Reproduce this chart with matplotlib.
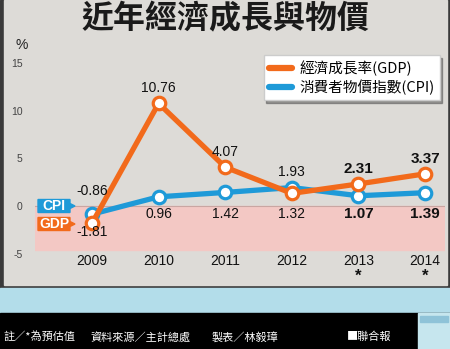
import matplotlib
matplotlib.use("Agg")
import matplotlib.pyplot as plt
from matplotlib.patches import Rectangle, Polygon
from matplotlib.lines import Line2D

plt.rcParams['font.family'] = ['Liberation Sans', 'Noto Sans CJK TC', 'DejaVu Sans']

# ---- data ----
years = ["2009", "2010", "2011", "2012", "2013", "2014"]
estimate = [False, False, False, False, True, True]
gdp = [-1.81, 10.76, 4.07, 1.32, 2.31, 3.37]
cpi = [-0.86, 0.96, 1.42, 1.93, 1.07, 1.39]
yticks = [-5, 0, 5, 10, 15]
title = "近年經濟成長與物價"
gdp_name = "經濟成長率(GDP)"
cpi_name = "消費者物價指數(CPI)"
footer = ["註／*為預估值", "資料來源／主計總處", "製表／林毅璋", "■聯合報"]

ORANGE = "#F26A1B"
BLUE = "#1E9AD8"
PANEL = "#DDDBD7"
PINK = "#F3C8C4"
LIGHTBLUE = "#B3DDEA"
CJK = ['Noto Sans CJK TC', 'DejaVu Sans']

W, H = 450, 349
fig = plt.figure(figsize=(W / 100, H / 100), dpi=100)

# ---- background decorations (pixel coords) ----
bg = fig.add_axes([0, 0, 1, 1], zorder=0)
bg.set_xlim(0, W)
bg.set_ylim(H, 0)
bg.axis("off")
bg.add_patch(Rectangle((0, 0), W, H, color="white"))
bg.add_patch(Rectangle((0, 0), 450, 288, color="#3a3a3a"))
bg.add_patch(Rectangle((4, 0), 443, 285, color=PANEL))
bg.add_patch(Rectangle((0, 288), 450, 25, color=LIGHTBLUE))
bg.add_patch(Rectangle((0, 313), 450, 36, color="black"))
# logo
bg.add_patch(Rectangle((418, 313), 32, 36, color="#C6E6EE"))
bg.add_patch(Rectangle((420, 316), 28, 6, color="#8FC3D8"))

fig.text(0.5, 1 - 19 / H, title, ha="center", va="center", fontsize=23,
         fontweight="bold", color="#1a1a1a", family=CJK)
fig.text(22 / W, 1 - 45 / H, "%", ha="center", va="center", fontsize=10, color="#222")

fx = [4, 90, 212, 347]
for x, t in zip(fx, footer):
    fig.text(x / W, 1 - 337 / H, t, ha="left", va="center", fontsize=8,
             color="white", family=CJK)

# ---- main axes ----
x0, x1, ytop, ybot = 35, 445, 55, 258
ax = fig.add_axes([x0 / W, 1 - ybot / H, (x1 - x0) / W, (ybot - ytop) / H], zorder=2)
ax.patch.set_alpha(0)
for s in ax.spines.values():
    s.set_visible(False)
ax.set_xlim(-0.856, 5.30)
ax.set_ylim(-5.46, 15.84)
ax.set_yticks(yticks)
ax.set_yticklabels([str(v) for v in yticks])
ax.tick_params(axis="y", length=0, pad=9, labelsize=7.5, labelcolor="#444")
ax.set_xticks([])

xs = list(range(len(years)))
ax.axhspan(-4.6, 0, color=PINK, zorder=0)
ax.axhline(0, color="#C9A6A2", lw=0.8, zorder=0.5)

ax.plot(xs, cpi, color=BLUE, lw=3.8, marker="o", ms=9, mfc="white",
        mec=BLUE, mew=2.3, zorder=3, solid_capstyle="round")
ax.plot(xs, gdp, color=ORANGE, lw=3.8, marker="o", ms=9, mfc="white",
        mec=ORANGE, mew=2.3, zorder=4, solid_capstyle="round")

for i, (g, c) in enumerate(zip(gdp, cpi)):
    hi, lo = max(g, c), min(g, c)
    bold = estimate[i]
    kw = dict(ha="center", va="center", color="#111",
              fontsize=11 if bold else 10,
              fontweight="bold" if bold else "normal", zorder=6)
    ax.annotate(f"{hi:.2f}", (i, max(hi, 0)), xytext=(0, 11), textcoords="offset points", **kw)
    ax.annotate(f"{lo:.2f}", (i, min(lo, 0)), xytext=(0, -6), textcoords="offset points", **kw)
    ax.annotate(years[i], (i, -5.46), xytext=(0, -2), textcoords="offset points",
                ha="center", va="center", fontsize=10, color="#111", annotation_clip=False)
    if bold:
        ax.annotate("*", (i, -5.46), xytext=(0, -13), textcoords="offset points",
                    ha="center", va="center", fontsize=12, fontweight="bold",
                    color="#111", annotation_clip=False)

# CPI / GDP tags on an overlay (pixel coords)
ov = fig.add_axes([0, 0, 1, 1], zorder=3)
ov.set_xlim(0, W)
ov.set_ylim(H, 0)
ov.axis("off")
ov.patch.set_alpha(0)

def tag(y, color, text):
    ov.add_patch(Polygon([(38, y - 6.5), (70, y - 6.5), (70, y - 2.5), (75, y),
                          (70, y + 2.5), (70, y + 6.5), (38, y + 6.5)],
                         closed=True, color=color))
    ov.text(54, y + 0.5, text, ha="center", va="center", color="white",
            fontsize=10, fontweight="bold")
tag(206, BLUE, "CPI")
tag(224, ORANGE, "GDP")

handles = [Line2D([], [], color=ORANGE, lw=4.5, solid_capstyle="round"),
           Line2D([], [], color=BLUE, lw=4.5, solid_capstyle="round")]
leg = fig.legend(handles, [gdp_name, cpi_name], loc="upper right",
                 bbox_to_anchor=(447 / W, 1 - 48 / H), frameon=True, fancybox=False,
                 shadow=True, handlelength=1.6, handletextpad=0.5, borderpad=0.35,
                 labelspacing=0.25, prop={"family": CJK, "size": 10.5})
leg.get_frame().set_facecolor("white")
leg.get_frame().set_edgecolor("#cccccc")
leg.set_zorder(10)

fig.savefig("out.png", dpi=100)
